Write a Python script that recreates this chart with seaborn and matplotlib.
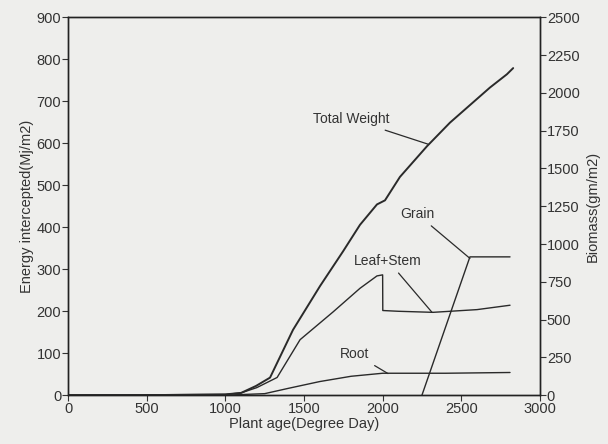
import matplotlib
matplotlib.use("Agg")
import matplotlib.pyplot as plt
import seaborn as sns
import pandas as pd

# ---- data ----
total_x = [0, 500, 1000, 1100, 1195, 1284, 1430, 1602, 1748, 1856, 1964, 2015, 2110, 2282, 2428, 2555, 2682, 2790, 2830]
total_y = [0, 0, 5, 15, 61, 116, 432, 722, 951, 1127, 1262, 1289, 1444, 1647, 1803, 1919, 2035, 2123, 2164]

leaf_x = [0, 1000, 1100, 1200, 1329, 1475, 1684, 1856, 1964, 2000, 2001, 2100, 2320, 2600, 2810]
leaf_y = [0, 5, 15, 50, 117, 367, 550, 707, 789, 796, 560, 555, 548, 566, 595]

root_x = [0, 1000, 1250, 1400, 1600, 1800, 2000, 2400, 2810]
root_y = [0, 0, 10, 45, 90, 125, 145, 145, 150]

grain_x = [2250, 2555, 2810]
grain_y = [0, 915, 915]

left_ticks = list(range(0, 901, 100))
right_ticks = list(range(0, 2501, 250))
x_ticks = list(range(0, 3001, 500))

sns.set_theme(style="white")
plt.rcParams['font.family'] = ['Liberation Sans', 'DejaVu Sans']

bg = '#eeeeec'
fig = plt.figure(figsize=(6.08, 4.44), dpi=100, facecolor=bg)
ax = fig.add_axes([0.112, 0.110, 0.776, 0.851])
ax.set_facecolor(bg)
ax2 = ax.twinx()

lc = '#2a2a2a'
frames = []
for name, xs, ys in [("Total Weight", total_x, total_y), ("Leaf+Stem", leaf_x, leaf_y),
                     ("Root", root_x, root_y), ("Grain", grain_x, grain_y)]:
    frames.append(pd.DataFrame({"x": xs, "y": ys, "series": name}))
df = pd.concat(frames, ignore_index=True)

for name, lw in [("Total Weight", 1.4), ("Leaf+Stem", 1.0), ("Root", 1.0), ("Grain", 1.0)]:
    sub = df[df.series == name]
    sns.lineplot(data=sub, x="x", y="y", ax=ax2, color=lc, linewidth=lw,
                 estimator=None, sort=False, legend=False)

ax.set_xlim(0, 3000)
ax.set_ylim(0, 900)
ax2.set_ylim(0, 2500)
ax.set_xticks(x_ticks)
ax.set_yticks(left_ticks)
ax2.set_yticks(right_ticks)

tc = '#333333'
ax.tick_params(axis='both', direction='out', length=4, width=0.8, colors=tc, labelsize=10.5, pad=1,
               bottom=True, left=True)
ax2.tick_params(axis='y', direction='out', length=4, width=0.8, colors=tc, labelsize=10.5, pad=1, right=True)
for a in (ax, ax2):
    for s in a.spines.values():
        s.set_visible(True)
        s.set_color('#222222')
        s.set_linewidth(1.0)

ax.set_xlabel("Plant age(Degree Day)", fontsize=10.5, color=tc, labelpad=1)
ax.set_ylabel("Energy intercepted(Mj/m2)", fontsize=10.5, color=tc, labelpad=2)
ax2.set_ylabel("Biomass(gm/m2)", fontsize=10.5, color=tc, labelpad=4)
ax2.set_xlabel("")

ap = dict(arrowstyle='-', color=lc, lw=0.9, shrinkA=2, shrinkB=0)
ax2.annotate("Total Weight", xy=(2288, 1661), xytext=(1799, 1827), fontsize=10, color=tc,
             ha='center', va='center', arrowprops=ap)
ax2.annotate("Grain", xy=(2555, 905), xytext=(2218, 1200), fontsize=10, color=tc,
             ha='center', va='center', arrowprops=ap)
ax2.annotate("Leaf+Stem", xy=(2314, 548), xytext=(2034, 890), fontsize=10, color=tc,
             ha='center', va='center', arrowprops=ap)
ax2.annotate("Root", xy=(2034, 143), xytext=(1824, 273), fontsize=10, color=tc,
             ha='center', va='center', arrowprops=ap)

fig.savefig("out.png", dpi=100, facecolor=bg)
